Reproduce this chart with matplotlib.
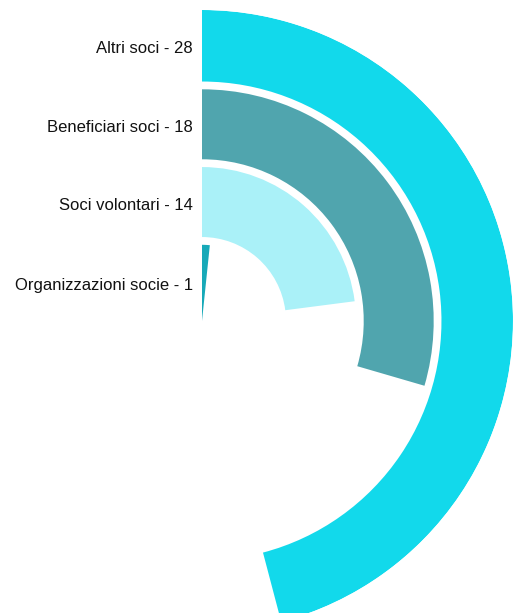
import numpy as np
import matplotlib.pyplot as plt

# dati
categorie = ['Organizzazioni socie', 'Soci volontari', 'Beneficiari soci', 'Altri soci']
valori = [1, 14, 18, 28]
colori = ['#17a9b8', '#aaf1f8', '#50a5ae', '#12d9eb']

totale = sum(valori)

W, H = 514, 613
fig = plt.figure(figsize=(W / 100, H / 100), dpi=100)
# centro del grafico a (202, 321) px, raggio esterno 311 px
cx, cy, R = 202, 321, 311
ax = fig.add_axes([(cx - R) / W, (H - cy - R) / H, 2 * R / W, 2 * R / H],
                  projection='polar')
ax.set_theta_zero_location('N')
ax.set_theta_direction(-1)
ax.set_ylim(0, 4)
ax.axis('off')

for i, (cat, v, c) in enumerate(zip(categorie, valori, colori)):
    ang = v / totale * 2 * np.pi
    bottom = 0 if i == 0 else i + 0.08
    top = i + 0.98 if i < 3 else 4.0
    ax.bar(ang / 2, top - bottom, width=ang, bottom=bottom, color=c,
           edgecolor='none', align='center')
    ax.annotate(f'{cat} - {v}', xy=(0, (bottom + top) / 2 if i else 0.5),
                xytext=(-9, -3), textcoords='offset pixels',
                ha='right', va='center', fontsize=12,
                family='Liberation Sans', color='#111111')

fig.savefig('out.png', dpi=100)
